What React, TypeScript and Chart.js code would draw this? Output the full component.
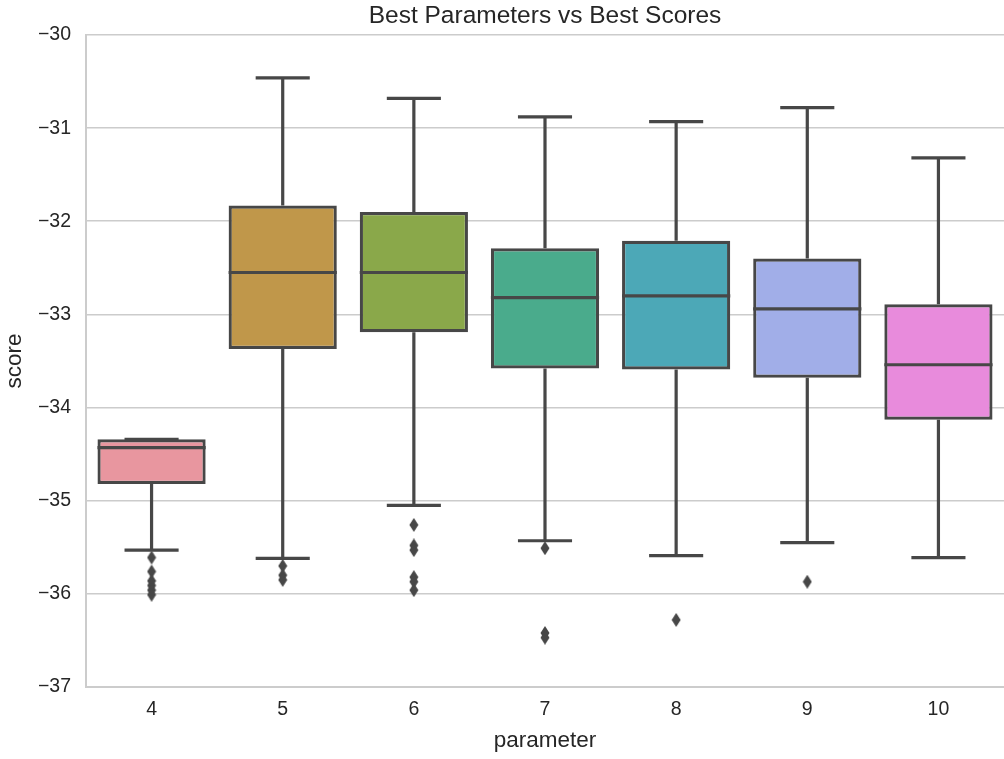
import React, { useEffect, useRef } from "react";
import { Chart, registerables } from "chart.js";

Chart.register(...registerables);

const categories = ["4", "5", "6", "7", "8", "9", "10"];
const q1 = [-34.82, -33.37, -33.19, -33.58, -33.59, -33.68, -34.13];
const medians = [-34.43, -32.55, -32.55, -32.82, -32.80, -32.94, -33.54];
const q3 = [-34.34, -31.83, -31.90, -32.29, -32.21, -32.40, -32.89];
const whiskerLow = [-35.53, -35.62, -35.05, -35.43, -35.59, -35.45, -35.61];
const whiskerHigh = [-34.34, -30.46, -30.68, -30.88, -30.93, -30.78, -31.32];
const outlierCategories = ["4", "4", "4", "4", "4", "4", "5", "5", "5", "6", "6", "6", "6", "6", "6", "7", "7", "7", "8", "9"];
const outlierValues = [-35.61, -35.76, -35.86, -35.91, -35.96, -36.01, -35.70, -35.80, -35.85, -35.26, -35.48, -35.53, -35.82, -35.87, -35.96, -35.51, -36.42, -36.47, -36.28, -35.87];
const boxColors = ["#e8969f", "#c0974a", "#8aa84a", "#4aab8c", "#4ca8b7", "#a1aee8", "#e88bdc"];
const yTicks = [-37, -36, -35, -34, -33, -32, -31, -30];

const LINE = "#474747";
const FONT = "'Liberation Sans', Arial, sans-serif";

function makeDiamond(): HTMLCanvasElement {
  const c = document.createElement("canvas");
  c.width = 10;
  c.height = 14;
  const g = c.getContext("2d")!;
  g.fillStyle = LINE;
  g.beginPath();
  g.moveTo(5, 0);
  g.lineTo(9.5, 7);
  g.lineTo(5, 14);
  g.lineTo(0.5, 7);
  g.closePath();
  g.fill();
  return c;
}

const boxPlugin = {
  id: "boxParts",
  beforeDatasetsDraw(chart: any) {
    const ctx = chart.ctx;
    const x = chart.scales.x;
    const y = chart.scales.y;
    const meta = chart.getDatasetMeta(0);
    ctx.save();
    ctx.strokeStyle = LINE;
    ctx.lineWidth = 3.2;
    ctx.lineCap = "butt";
    categories.forEach((_, i) => {
      const cx = x.getPixelForValue(i);
      const w = meta.data[i] ? meta.data[i].width : 100;
      const half = w / 4;
      ctx.beginPath();
      ctx.moveTo(cx, y.getPixelForValue(whiskerLow[i]));
      ctx.lineTo(cx, y.getPixelForValue(q1[i]));
      ctx.moveTo(cx, y.getPixelForValue(q3[i]));
      ctx.lineTo(cx, y.getPixelForValue(whiskerHigh[i]));
      ctx.moveTo(cx - half, y.getPixelForValue(whiskerLow[i]));
      ctx.lineTo(cx + half, y.getPixelForValue(whiskerLow[i]));
      ctx.moveTo(cx - half, y.getPixelForValue(whiskerHigh[i]));
      ctx.lineTo(cx + half, y.getPixelForValue(whiskerHigh[i]));
      ctx.stroke();
    });
    ctx.restore();
  },
  afterDatasetsDraw(chart: any) {
    const ctx = chart.ctx;
    const x = chart.scales.x;
    const y = chart.scales.y;
    const meta = chart.getDatasetMeta(0);
    ctx.save();
    ctx.strokeStyle = LINE;
    ctx.lineWidth = 3.2;
    categories.forEach((_, i) => {
      const cx = x.getPixelForValue(i);
      const w = meta.data[i] ? meta.data[i].width : 100;
      const py = y.getPixelForValue(medians[i]);
      ctx.beginPath();
      ctx.moveTo(cx - w / 2, py);
      ctx.lineTo(cx + w / 2, py);
      ctx.stroke();
    });
    ctx.restore();
  },
};

export default function App() {
  const ref = useRef<HTMLCanvasElement | null>(null);
  useEffect(() => {
    if (!ref.current) return;
    const diamond = makeDiamond();
    const chart = new Chart(ref.current, {
      type: "bar",
      data: {
        labels: categories,
        datasets: [
          {
            type: "bar",
            data: categories.map((_, i) => [q1[i], q3[i]]) as any,
            backgroundColor: boxColors,
            borderColor: LINE,
            borderWidth: 3.2,
            borderSkipped: false,
            categoryPercentage: 0.825,
            barPercentage: 1,
            order: 2,
          } as any,
          {
            type: "scatter",
            data: outlierCategories.map((c, i) => ({ x: c, y: outlierValues[i] })) as any,
            pointStyle: diamond,
            radius: 5,
            backgroundColor: LINE,
            borderColor: LINE,
            borderWidth: 0,
            order: 1,
          } as any,
        ],
      },
      options: {
        animation: false,
        responsive: false,
        maintainAspectRatio: false,
        layout: { padding: { left: 0, right: 0, top: 0, bottom: 0 } },
        plugins: {
          legend: { display: false },
          tooltip: { enabled: false },
          title: {
            display: true,
            fullSize: false,
            text: "Best Parameters vs Best Scores",
            color: "#262626",
            font: { family: FONT, size: 24.5, weight: "normal" },
            padding: { top: 2, bottom: 3.6 },
          },
        },
        scales: {
          x: {
            type: "category",
            offset: true,
            grid: { display: false, drawTicks: false },
            border: { display: true, color: "#cccccc", width: 2 },
            ticks: { color: "#262626", font: { family: FONT, size: 19.5 }, padding: 11 },
            title: {
              display: true,
              text: "parameter",
              color: "#262626",
              font: { family: FONT, size: 22.5 },
              padding: { top: 2, bottom: 4.5 },
            },
            afterFit: (s: any) => { s.height = 72; },
          },
          y: {
            type: "linear",
            min: -37,
            max: -30,
            afterBuildTicks: (s: any) => { s.ticks = yTicks.map((v) => ({ value: v })); },
            grid: { color: "#cccccc", lineWidth: 1.6, drawTicks: false },
            border: { display: true, color: "#cccccc", width: 2 },
            ticks: {
              color: "#262626",
              font: { family: FONT, size: 19.5 },
              padding: 15,
              callback: (v: any) => String(v).replace("-", "\u2212"),
            },
            title: {
              display: true,
              text: "score",
              color: "#262626",
              font: { family: FONT, size: 22.5 },
              padding: { top: 1.5, bottom: 2 },
            },
            afterFit: (s: any) => { s.width = 86; },
          },
        },
      },
      plugins: [boxPlugin],
    });
    return () => chart.destroy();
  }, []);
  return (
    <div style={{ position: "absolute", left: 0, top: 0, width: 1004, height: 759, overflow: "hidden", background: "#fff" }}>
      <canvas ref={ref} width={1009} height={759} style={{ width: 1009, height: 759, display: "block" }} />
    </div>
  );
}
